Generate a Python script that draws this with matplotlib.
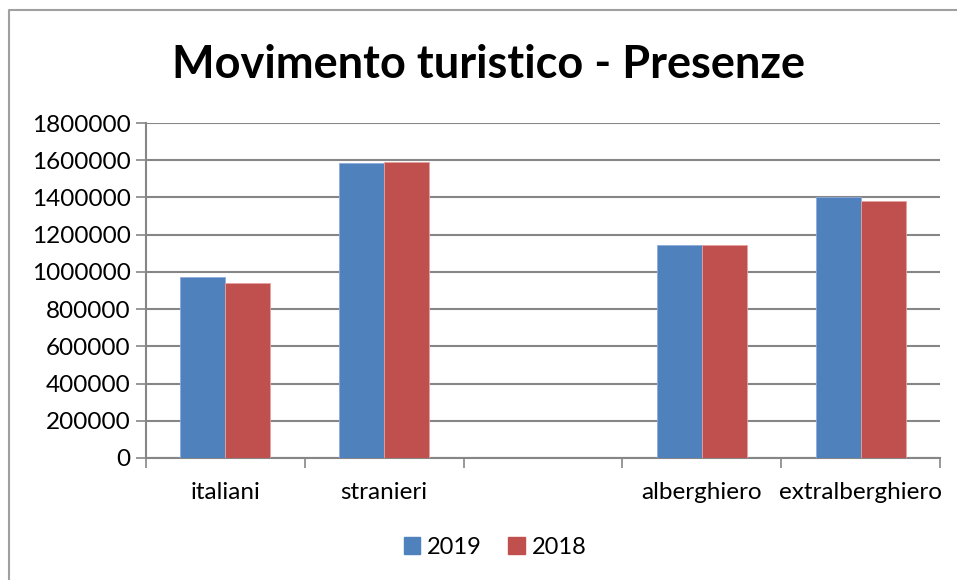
import matplotlib
matplotlib.use("Agg")
import matplotlib.pyplot as plt
import numpy as np
from matplotlib.lines import Line2D

plt.rcParams['font.family'] = ['Lato', 'DejaVu Sans']

categories = ["italiani", "stranieri", "", "alberghiero", "extralberghiero"]
series_names = ["2019", "2018"]
values_2019 = [970000, 1586000, 0, 1144000, 1402000]
values_2018 = [941000, 1592000, 0, 1144000, 1380000]
yticks = [0, 200000, 400000, 600000, 800000, 1000000, 1200000, 1400000, 1600000, 1800000]

blue = "#4F81BD"
red = "#C0504D"
grid_col = "#868686"

fig = plt.figure(figsize=(9.57, 5.8), dpi=100)
W, H = 957, 580
ax = fig.add_axes([146 / W, 1 - 458 / H, (940 - 146) / W, (458 - 123) / H])

x = np.arange(len(categories))
w = 0.283
ax.bar(x - w / 2, values_2019, width=w, color=blue, edgecolor="#8FAADC", linewidth=0.6, zorder=3, label=series_names[0])
ax.bar(x + w / 2, values_2018, width=w, color=red, edgecolor="#E3A3A1", linewidth=0.6, zorder=3, label=series_names[1])

ax.set_xlim(-0.5, len(categories) - 0.5)
ax.set_ylim(0, 1800000)
ax.set_yticks(yticks)
ax.set_yticklabels([str(v) for v in yticks], fontsize=17.5)
ax.yaxis.grid(True, color=grid_col, linewidth=1.5, zorder=0)
ax.set_axisbelow(True)

ax.set_xticks(np.arange(-0.5, len(categories)), labels=[""] * (len(categories) + 1))
ax.set_xticks(x, labels=categories, minor=True)
ax.tick_params(axis="x", which="major", direction="out", length=7, width=1.2, color=grid_col)
ax.tick_params(axis="x", which="minor", length=0, labelsize=17.5, pad=17)
ax.tick_params(axis="y", direction="out", length=7, width=1.2, color=grid_col, pad=4)

for s in ["top", "right"]:
    ax.spines[s].set_visible(False)
for s in ["left", "bottom"]:
    ax.spines[s].set_color(grid_col)
    ax.spines[s].set_linewidth(1.5)

fig.text(489 / W, 1 - 65 / H, "Movimento turistico - Presenze", ha="center", va="center",
         fontsize=32.5, fontweight="bold")

handles = [plt.Rectangle((0, 0), 1, 1, color=blue), plt.Rectangle((0, 0), 1, 1, color=red)]
fig.legend(handles, series_names, loc="center", bbox_to_anchor=(495 / W, 1 - 547 / H), ncol=2,
           frameon=False, fontsize=17, handlelength=0.7, handleheight=0.7, handletextpad=0.3,
           columnspacing=1.1)

# outer chart frame
fig.add_artist(Line2D([9 / W, 9 / W, 1.0], [0.0, 1 - 10 / H, 1 - 10 / H], color="#A0A0A0",
                      linewidth=1.5, transform=fig.transFigure))

fig.savefig("out.png", dpi=100)
